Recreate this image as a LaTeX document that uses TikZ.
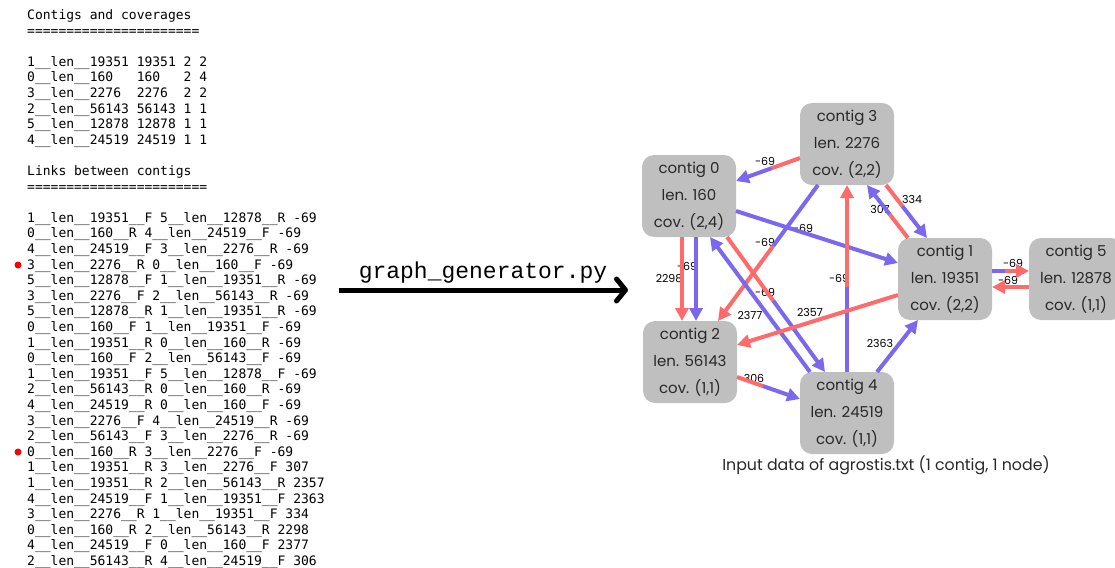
\documentclass[tikz,border=0pt]{standalone}
\usepackage{fontspec}
\setmainfont{Poppins}
\newfontfamily\dejamono{DejaVu Sans Mono}
\newfontfamily\courmono{Liberation Mono}
\usetikzlibrary{arrows.meta,calc}
\definecolor{ered}{RGB}{255,106,106}
\definecolor{eblue}{RGB}{123,104,238}
\definecolor{nodegray}{RGB}{191,191,191}
\definecolor{ntext}{RGB}{40,40,40}
\newcommand{\dus}{\_\_}
\tikzset{
  contig/.style={rectangle, rounded corners=12pt, fill=nodegray, minimum width=94pt, minimum height=82pt, align=center, text=ntext, font=\fontsize{15}{27}\selectfont, inner sep=0pt},
  edge/.style={line width=4pt},
  tipped/.style={-{Triangle[length=13pt,width=13pt]}},
  elabel/.style={font=\fontsize{11}{12}\selectfont, inner sep=0pt, text=black},
  monoline/.style={anchor=base west, inner sep=0pt, font=\dejamono\fontsize{13}{15}\selectfont},
}
\newcommand{\twotone}[5]{%
  \draw[edge,#4] (#1) -- ($(#1)!#3!(#2)$);
  \draw[edge,#5,tipped] ($(#1)!#3!(#2)$) -- (#2);
}
\begin{document}
\begin{tikzpicture}[x=1pt,y=-1pt]
\useasboundingbox (0,0) rectangle (1115,567);
\clip (0,0) rectangle (1115,567);
% left text
\foreach \i/\t in {0/Contigs~and~coverages, 1/======================,
 3/1\dus len\dus 19351~19351~2~2,
 4/0\dus len\dus 160~~~160~~~2~4,
 5/3\dus len\dus 2276~~2276~~2~2,
 6/2\dus len\dus 56143~56143~1~1,
 7/5\dus len\dus 12878~12878~1~1,
 8/4\dus len\dus 24519~24519~1~1,
 10/Links~between~contigs, 11/=======================,
 13/1\dus len\dus 19351\dus F~5\dus len\dus 12878\dus R~-69,
 14/0\dus len\dus 160\dus R~4\dus len\dus 24519\dus F~-69,
 15/4\dus len\dus 24519\dus F~3\dus len\dus 2276\dus R~-69,
 16/3\dus len\dus 2276\dus R~0\dus len\dus 160\dus F~-69,
 17/5\dus len\dus 12878\dus F~1\dus len\dus 19351\dus R~-69,
 18/3\dus len\dus 2276\dus F~2\dus len\dus 56143\dus R~-69,
 19/5\dus len\dus 12878\dus R~1\dus len\dus 19351\dus R~-69,
 20/0\dus len\dus 160\dus F~1\dus len\dus 19351\dus F~-69,
 21/1\dus len\dus 19351\dus R~0\dus len\dus 160\dus R~-69,
 22/0\dus len\dus 160\dus F~2\dus len\dus 56143\dus F~-69,
 23/1\dus len\dus 19351\dus F~5\dus len\dus 12878\dus F~-69,
 24/2\dus len\dus 56143\dus R~0\dus len\dus 160\dus R~-69,
 25/4\dus len\dus 24519\dus R~0\dus len\dus 160\dus F~-69,
 26/3\dus len\dus 2276\dus F~4\dus len\dus 24519\dus R~-69,
 27/2\dus len\dus 56143\dus F~3\dus len\dus 2276\dus R~-69,
 28/0\dus len\dus 160\dus R~3\dus len\dus 2276\dus F~-69,
 29/1\dus len\dus 19351\dus R~3\dus len\dus 2276\dus F~307,
 30/1\dus len\dus 19351\dus R~2\dus len\dus 56143\dus R~2357,
 31/4\dus len\dus 24519\dus F~1\dus len\dus 19351\dus F~2363,
 32/3\dus len\dus 2276\dus R~1\dus len\dus 19351\dus F~334,
 33/0\dus len\dus 160\dus R~2\dus len\dus 56143\dus R~2298,
 34/4\dus len\dus 24519\dus F~0\dus len\dus 160\dus F~2377,
 35/2\dus len\dus 56143\dus R~4\dus len\dus 24519\dus F~306}
  \node[monoline, name=txt\i] at (27, {19.5+\i*15.6}) {\t};
\fill[red] (18,265) circle (3.5);
\fill[red] (18,452) circle (3.5);
% big arrow
\node[font=\courmono\fontsize{23}{25}\selectfont, inner sep=0pt, anchor=base] (gen) at (483,278) {graph\_generator.py};
\coordinate (arS) at (339,290);
\coordinate (arE) at (628,290);
\draw[line width=5pt, -{Straight Barb[length=9pt,width=22pt,line cap=round,line join=round]}] (arS) -- (arE);
% graph nodes
\node[contig] (n0) at (689,196) {contig 0\\len. 160\\cov. (2,4)};
\node[contig] (n3) at (847,144) {contig 3\\len. 2276\\cov. (2,2)};
\node[contig] (n1) at (945,279) {contig 1\\len. 19351\\cov. (2,2)};
\node[contig] (n5) at (1076,279) {contig 5\\len. 12878\\cov. (1,1)};
\node[contig] (n2) at (690,362) {contig 2\\len. 56143\\cov. (1,1)};
\node[contig] (n4) at (847,413) {contig 4\\len. 24519\\cov. (1,1)};
\node[font=\fontsize{15.8}{17}\selectfont, text=ntext, inner sep=0pt] (cap) at (886,465) {Input data of agrostis.txt (1 contig, 1 node)};
% edge labels
\node[elabel] (la) at (765,161) {-69};
\node[elabel] (lb) at (803,228) {-69};
\node[elabel] (lc) at (765,242) {-69};
\node[elabel] (ld) at (839,278) {-69};
\node[elabel] (le) at (880,209) {307};
\node[elabel] (lf) at (912,199) {334};
\node[elabel] (lg) at (669,279) {2298};
\node[elabel] (lh) at (687,266) {-69};
\node[elabel] (li) at (750,315) {2377};
\node[elabel] (lj) at (765,292) {-69};
\node[elabel] (lk) at (810,312) {2357};
\node[elabel] (ll) at (880,343) {2363};
\node[elabel] (lm) at (754,378) {306};
\node[elabel] (ln) at (1013,263) {-69};
\node[elabel] (lo) at (1008,280) {-69};
% edge endpoints
\coordinate (aS) at ($(n3)+(-47,14)$);  \coordinate (aE) at ($(n0)+(47,-15)$);
\coordinate (bS) at ($(n0)+(47,15)$);   \coordinate (bE) at ($(n1)+(-47,-16)$);
\coordinate (cS) at ($(n3)+(-29,41)$);  \coordinate (cE) at ($(n2)+(28,-41)$);
\coordinate (dS) at ($(n4)+(0,-41)$);   \coordinate (dE) at ($(n3)+(0,41)$);
\coordinate (eS) at ($(n1)+(-37,-41)$); \coordinate (eE) at ($(n3)+(20,41)$);
\coordinate (fS) at ($(n3)+(39,41)$);   \coordinate (fE) at ($(n1)+(-18,-41)$);
\coordinate (gS) at ($(n0)+(-7,41)$);   \coordinate (gE) at ($(n2)+(-8,-41)$);
\coordinate (hS) at ($(n0)+(7,41)$);    \coordinate (hE) at ($(n2)+(6,-41)$);
\coordinate (iS) at ($(n4)+(-37,-41)$); \coordinate (iE) at ($(n0)+(21,41)$);
\coordinate (jS) at ($(n0)+(38,41)$);   \coordinate (jE) at ($(n4)+(-22,-41)$);
\coordinate (kS) at ($(n1)+(-47,16)$);  \coordinate (kE) at ($(n2)+(47,-17)$);
\coordinate (lS) at ($(n4)+(30,-41)$);  \coordinate (lE) at ($(n1)+(-27,41)$);
\coordinate (mS) at ($(n2)+(47,15)$);   \coordinate (mE) at ($(n4)+(-47,-14)$);
\coordinate (nS) at ($(n1)+(47,-8)$);   \coordinate (nE) at ($(n5)+(-47,-8)$);
\coordinate (oS) at ($(n5)+(-47,8)$);   \coordinate (oE) at ($(n1)+(47,8)$);
% edges
\twotone{aS}{aE}{0.44}{ered}{eblue}
\draw[edge,eblue,tipped] (bS) -- (bE);
\twotone{cS}{cE}{0.45}{eblue}{ered}
\twotone{dS}{dE}{0.455}{eblue}{ered}
\twotone{eS}{eE}{0.45}{ered}{eblue}
\twotone{fS}{fE}{0.4}{ered}{eblue}
\draw[edge,ered,tipped] (gS) -- (gE);
\draw[edge,eblue,tipped] (hS) -- (hE);
\draw[edge,eblue,tipped] (iS) -- (iE);
\twotone{jS}{jE}{0.47}{ered}{eblue}
\draw[edge,ered,tipped] (kS) -- (kE);
\draw[edge,eblue,tipped] (lS) -- (lE);
\twotone{mS}{mE}{0.41}{ered}{eblue}
\twotone{nS}{nE}{0.35}{eblue}{ered}
\draw[edge,ered,tipped] (oS) -- (oE);
\end{tikzpicture}
\end{document}
